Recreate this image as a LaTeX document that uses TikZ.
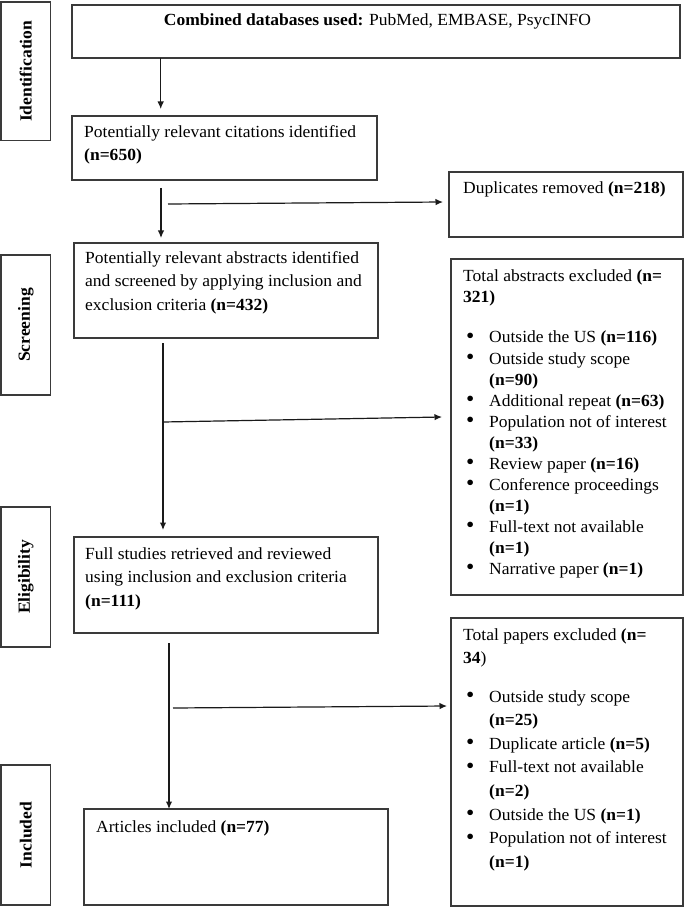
\documentclass[tikz,border=0pt]{standalone}
\usepackage{fontspec}
\setmainfont{Liberation Serif}[FakeStretch=1.03]
\usetikzlibrary{arrows.meta,calc}
\definecolor{boxc}{HTML}{3A3A3A}
\definecolor{linec}{HTML}{1A1A1A}
\newcommand\bulitem{\hspace*{3pt}\makebox[23pt][l]{\raisebox{-0.5pt}{\scalebox{1.35}{\textbullet}}}}
\newcommand\contind{\hspace*{26pt}}
\begin{document}
\begin{tikzpicture}[x=1pt,y=-1pt,
  box/.style={draw=boxc, line width=1.1pt, anchor=north west, inner sep=0pt, outer sep=0pt},
  txt/.style={anchor=north west, inner sep=0pt, align=left, font=\fontsize{17}{23.5}\selectfont},
  listtxt/.style={txt, font=\fontsize{17}{21}\selectfont},
  listtxtb/.style={txt, font=\fontsize{17}{23.6}\selectfont},
  side/.style={font=\fontsize{17}{19}\selectfont\bfseries, rotate=90, inner sep=0pt},
  arr/.style={draw=linec, line width=1.2pt, -{Latex[length=7.5pt,width=6.5pt]}},
  ln/.style={draw=linec, line width=1.2pt}]
\fill[white] (0,0) rectangle (685,909);
\useasboundingbox (0,0) rectangle (685,909);

% side labels
\node[box, minimum width=49.5pt, minimum height=138.7pt] (idb) at (1,2) {};
\node[side] (idt) at (idb.center) {Identification};
\node[box, minimum width=49.5pt, minimum height=140pt] (scb) at (1,255) {};
\node[side] (sct) at (scb.center) {Screening};
\node[box, minimum width=49.5pt, minimum height=140pt] (elb) at (1,507) {};
\node[side] (elt) at (elb.center) {Eligibility};
\node[box, minimum width=49.5pt, minimum height=140pt] (inb) at (1,765) {};
\node[side] (int) at (inb.center) {Included};

% main boxes
\node[box, minimum width=608pt, minimum height=53pt] (top) at (72,5) {};
\node[txt, anchor=north] (topt) at ($(top.north)+(1.5,9)$) {\textbf{Combined databases used:} PubMed, EMBASE, PsycINFO};

\node[box, minimum width=305pt, minimum height=64pt] (cit) at (72,116) {};
\node[txt] (citt) at ($(cit.north west)+(12,9)$) {Potentially relevant citations identified\\\textbf{(n=650)}};

\node[box, minimum width=234pt, minimum height=65pt] (dup) at (449,172) {};
\node[txt] (dupt) at ($(dup.north west)+(14,10)$) {Duplicates removed \textbf{(n=218)}};

\node[box, minimum width=304pt, minimum height=95pt] (abs) at (74,243) {};
\node[txt] (abst) at ($(abs.north west)+(11,8)$) {Potentially relevant abstracts identified\\and screened by applying inclusion and\\exclusion criteria \textbf{(n=432)}};

\node[box, minimum width=232pt, minimum height=336pt] (absx) at (451,259) {};
\node[listtxt] (absxt) at ($(absx.north west)+(12,10)$) {Total abstracts excluded \textbf{(n=}\\\textbf{321)}\\[20pt]
\bulitem Outside the US \textbf{(n=116)}\\
\bulitem Outside study scope\\
\contind\textbf{(n=90)}\\
\bulitem Additional repeat \textbf{(n=63)}\\
\bulitem Population not of interest\\
\contind\textbf{(n=33)}\\
\bulitem Review paper \textbf{(n=16)}\\
\bulitem Conference proceedings\\
\contind\textbf{(n=1)}\\
\bulitem Full-text not available\\
\contind\textbf{(n=1)}\\
\bulitem Narrative paper \textbf{(n=1)}};

\node[box, minimum width=304pt, minimum height=96pt] (full) at (74,537) {};
\node[txt] (fullt) at ($(full.north west)+(11,10)$) {Full studies retrieved and reviewed\\using inclusion and exclusion criteria\\\textbf{(n=111)}};

\node[box, minimum width=232pt, minimum height=288pt] (papx) at (451,618) {};
\node[listtxtb] (papxt) at ($(papx.north west)+(12,10)$) {Total papers excluded \textbf{(n=}\\\textbf{34})\\[14.8pt]
\bulitem Outside study scope\\
\contind\textbf{(n=25)}\\
\bulitem Duplicate article \textbf{(n=5)}\\
\bulitem Full-text not available\\
\contind\textbf{(n=2)}\\
\bulitem Outside the US \textbf{(n=1)}\\
\bulitem Population not of interest\\
\contind\textbf{(n=1)}};

\node[box, minimum width=304pt, minimum height=96pt] (art) at (84,809) {};
\node[txt] (artt) at ($(art.north west)+(12,11)$) {Articles included \textbf{(n=77)}};

% connectors
\draw[arr] ($(top.south west)+(88.7,0)$) -- ($(cit.north west)+(88.7,-7)$);

\draw[arr] ($(cit.south west)+(89,8)$) -- ($(abs.north west)+(87,-5)$);
\draw[arr] ($(cit.south west)+(96,24)$) -- ($(dup.north west)+(-6,30)$);

\coordinate (j3) at ($(abs.south west)+(89,84)$);
\draw[arr] ($(abs.south west)+(89,5)$) -- ($(full.north west)+(89,-7)$);
\draw[arr] (j3) -- ($(absx.north west)+(-9,158)$);

\draw[arr] ($(full.south west)+(95,10)$) -- ($(art.north west)+(85,0)$);
\draw[arr] ($(full.south west)+(99,75)$) -- ($(papx.north west)+(-4,88)$);
\end{tikzpicture}
\end{document}
